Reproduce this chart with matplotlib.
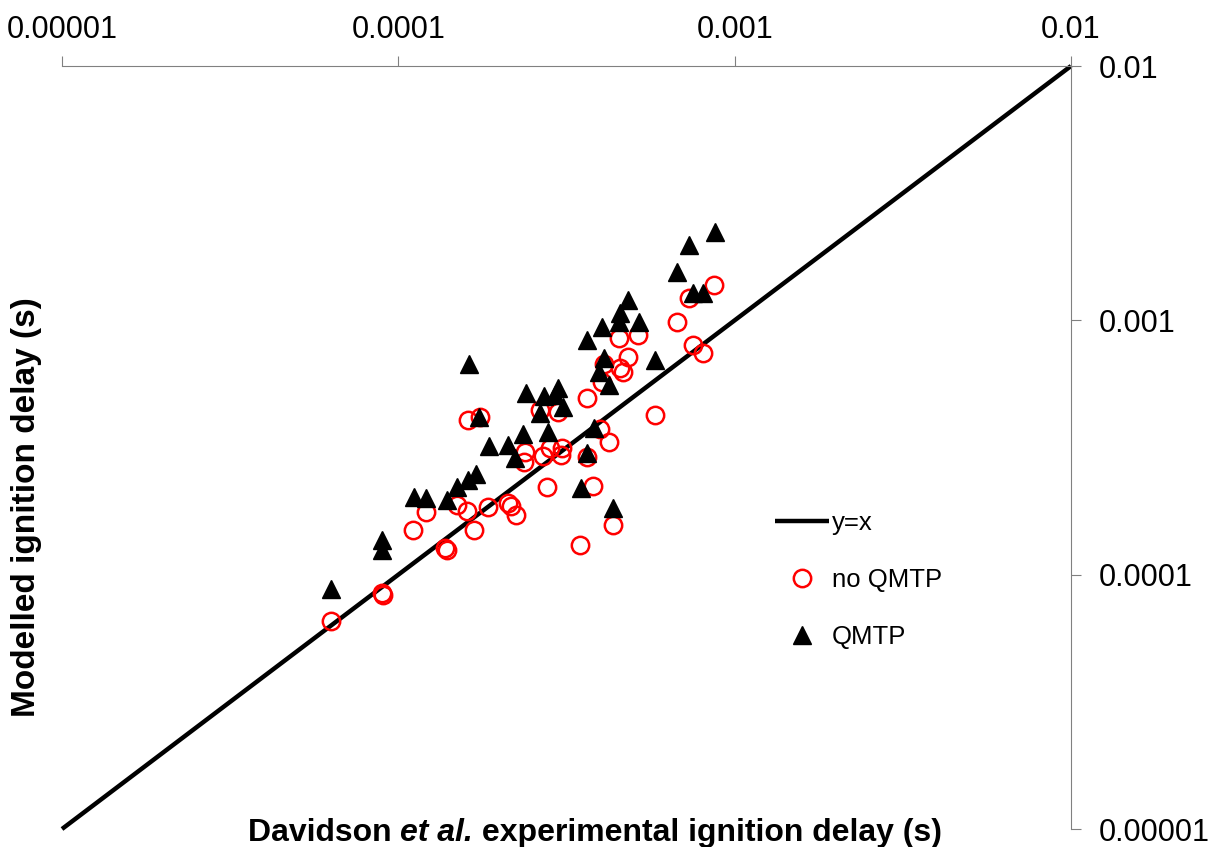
import numpy as np
import matplotlib.pyplot as plt

plt.rcParams['font.family'] = ['Liberation Sans', 'DejaVu Sans']

# y = x reference line
line_x = [1e-5, 1e-2]
line_y = [1e-5, 1e-2]

# no QMTP (open red circles)
noq_x = [6.31e-5, 8.94e-5, 9.00e-5, 1.106e-4, 1.209e-4, 1.377e-4, 1.395e-4, 1.494e-4,
         1.600e-4, 1.679e-4, 1.611e-4, 1.749e-4, 1.848e-4, 2.119e-4, 2.163e-4, 2.239e-4,
         2.380e-4, 2.364e-4, 2.637e-4, 2.692e-4, 2.767e-4, 2.825e-4, 2.984e-4, 3.067e-4,
         3.046e-4, 3.469e-4, 3.639e-4, 3.639e-4, 3.792e-4, 3.978e-4, 4.230e-4, 4.033e-4,
         4.088e-4, 4.348e-4, 4.530e-4, 4.561e-4, 4.656e-4, 4.818e-4, 5.161e-4, 5.797e-4,
         6.741e-4, 7.317e-4, 7.520e-4, 8.052e-4, 8.683e-4]
noq_y = [6.57e-5, 8.47e-5, 8.32e-5, 1.50e-4, 1.76e-4, 1.27e-4, 1.25e-4, 1.88e-4,
         1.78e-4, 1.50e-4, 4.06e-4, 4.17e-4, 1.85e-4, 1.91e-4, 1.86e-4, 1.72e-4,
         3.04e-4, 2.77e-4, 4.44e-4, 2.93e-4, 2.21e-4, 3.15e-4, 4.36e-4, 3.15e-4,
         2.95e-4, 1.31e-4, 4.95e-4, 2.90e-4, 2.23e-4, 3.74e-4, 3.32e-4, 5.72e-4,
         6.73e-4, 1.57e-4, 8.52e-4, 6.49e-4, 6.26e-4, 7.17e-4, 8.76e-4, 4.24e-4,
         9.85e-4, 1.224e-3, 8.00e-4, 7.44e-4, 1.377e-3]

# QMTP (filled black triangles)
qmtp_x = [6.31e-5, 8.94e-5, 8.94e-5, 1.113e-4, 1.209e-4, 1.395e-4, 1.494e-4, 1.611e-4,
          1.702e-4, 1.623e-4, 1.738e-4, 1.861e-4, 2.119e-4, 2.223e-4, 2.348e-4, 2.397e-4,
          2.637e-4, 2.711e-4, 2.786e-4, 2.923e-4, 2.984e-4, 3.088e-4, 3.639e-4, 3.639e-4,
          3.493e-4, 3.818e-4, 3.94e-4, 4.033e-4, 4.088e-4, 4.230e-4, 4.348e-4, 4.530e-4,
          4.561e-4, 4.818e-4, 5.196e-4, 5.797e-4, 6.741e-4, 7.317e-4, 7.520e-4, 8.052e-4,
          8.743e-4]
qmtp_y = [8.78e-5, 1.37e-4, 1.25e-4, 2.02e-4, 2.00e-4, 1.97e-4, 2.21e-4, 2.36e-4,
          2.49e-4, 6.73e-4, 4.17e-4, 3.21e-4, 3.23e-4, 2.88e-4, 3.57e-4, 5.18e-4,
          4.32e-4, 5.04e-4, 3.64e-4, 5.09e-4, 5.42e-4, 4.56e-4, 8.37e-4, 3.01e-4,
          2.19e-4, 3.77e-4, 6.26e-4, 9.41e-4, 7.11e-4, 5.57e-4, 1.83e-4, 9.85e-4,
          1.069e-3, 1.202e-3, 9.85e-4, 6.98e-4, 1.549e-3, 1.978e-3, 1.281e-3, 1.281e-3,
          2.225e-3]

ticks = [1e-5, 1e-4, 1e-3, 1e-2]
tick_labels = ['0.00001', '0.0001', '0.001', '0.01']

W, H = 1212, 847
fig = plt.figure(figsize=(W / 100, H / 100), dpi=100)
ax = fig.add_axes([62 / W, 1 - 829 / H, (1071 - 62) / W, (829 - 66) / H])
ax.set_xscale('log')
ax.set_yscale('log')

ax.plot(line_x, line_y, color='black', lw=3.2, label='y=x', solid_capstyle='butt', clip_on=False)
ax.plot(noq_x, noq_y, ls='none', marker='o', ms=12.5, mfc='none', mec='red', mew=1.8,
        label='no QMTP')
ax.plot(qmtp_x, qmtp_y, ls='none', marker='^', ms=12.5, color='black', label='QMTP')

ax.set_xlim(1e-5, 1e-2)
ax.set_ylim(1e-5, 1e-2)

ax.xaxis.tick_top()
ax.yaxis.tick_right()
ax.set_xticks(ticks)
ax.set_xticklabels(tick_labels)
ax.set_yticks(ticks)
ax.set_yticklabels(tick_labels)
ax.xaxis.set_minor_locator(plt.NullLocator())
ax.yaxis.set_minor_locator(plt.NullLocator())
ax.tick_params(direction='out', length=7, width=0.8, color='#808080', labelsize=22)
ax.tick_params(axis='x', pad=8)
ax.tick_params(axis='y', pad=13)

for side in ['left', 'bottom']:
    ax.spines[side].set_visible(False)
for side in ['top', 'right']:
    ax.spines[side].set_color('#808080')
    ax.spines[side].set_linewidth(0.8)

ax.legend(loc='upper left', bbox_to_anchor=(775 / W, 1 - 511 / H), bbox_transform=fig.transFigure,
          frameon=False, fontsize=18.5, handlelength=2.1, handletextpad=0.1,
          labelspacing=1.28, borderpad=0, borderaxespad=0)

# axis titles
fig.text(27 / W, 1 - 507 / H, 'Modelled ignition delay (s)', rotation=90,
         ha='center', va='center', fontsize=24, fontweight='bold')

renderer = fig.canvas.get_renderer()
x0 = 248
yb = 1 - 833 / H
for txt, style in [('Davidson ', 'normal'), ('et al.', 'italic'),
                   (' experimental ignition delay (s)', 'normal')]:
    t = fig.text(x0 / W, yb, txt, ha='left', va='center', fontsize=23,
                 fontweight='bold', fontstyle=style)
    x0 += t.get_window_extent(renderer).width

fig.savefig('out.png', dpi=100)
